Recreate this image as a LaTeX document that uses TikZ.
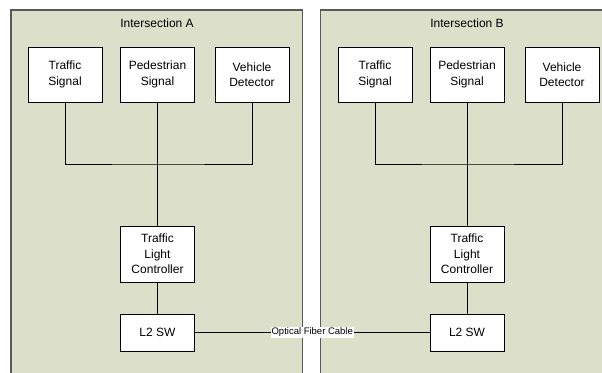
\documentclass[tikz,border=0pt]{standalone}
\usepackage{fontspec}
\setmainfont{Liberation Sans}
\begin{document}
\begin{tikzpicture}[x=1pt,y=-1pt,
  panel/.style={draw=black!65,line width=1.2pt,fill=panelgreen},
  device/.style={draw=black,line width=0.8pt,fill=white,align=center,
    font=\fontsize{12}{15.3}\selectfont,inner sep=0pt,minimum width=74pt},
  tall/.style={device,minimum height=55pt},
  short/.style={device,minimum height=37pt},
  wire/.style={draw=black,line width=0.9pt},
  fiber/.style={draw=black,line width=1.6pt},
  heading/.style={font=\fontsize{12}{14}\selectfont},
  cablelabel/.style={fill=white,inner sep=0.6pt,font=\fontsize{9.5}{11}\selectfont}
]
\definecolor{panelgreen}{HTML}{DCDFCA}
\useasboundingbox (0,0) rectangle (602,372);
\clip (0,0) rectangle (602,372);
\fill[white] (0,0) rectangle (602,372);

% Intersection panels
\draw[panel] (11,10) rectangle (302.5,385);
\draw[panel] (320.5,10) rectangle (612,385);
\node[heading] (titleA) at (157,23) {Intersection A};
\node[heading] (titleB) at (467,23) {Intersection B};

% Intersection A equipment
\node[tall] (tsA)  at (65,74.5)   {Traffic\\Signal};
\node[tall] (psA)  at (157.5,74.5) {Pedestrian\\Signal};
\node[tall] (vdA)  at (252,74.5)  {Vehicle\\Detector};
\node[device,minimum height=56pt] (tlcA) at (157.5,254) {Traffic\\Light\\Controller};
\node[short] (swA) at (157.5,332.5) {L2 SW};
\coordinate (busA) at (157.5,164);

% Intersection B equipment
\node[tall] (tsB)  at (375,74.5)  {Traffic\\Signal};
\node[tall] (psB)  at (467,74.5)  {Pedestrian\\Signal};
\node[tall] (vdB)  at (562,74.5)  {Vehicle\\Detector};
\node[device,minimum height=56pt] (tlcB) at (467,254) {Traffic\\Light\\Controller};
\node[short] (swB) at (467,332.5) {L2 SW};
\coordinate (busB) at (467,164);

% Local wiring
\draw[wire] (tsA) |- (busA) -| (vdA);
\draw[wire] (psA) -- (tlcA);
\draw[wire] (tlcA) -- (swA);
\draw[wire] (tsB) |- (busB) -| (vdB);
\draw[wire] (psB) -- (tlcB);
\draw[wire] (tlcB) -- (swB);

% Link between the two switches
\draw[fiber] (swA) -- node[cablelabel] (cable) {Optical Fiber Cable} (swB);
\end{tikzpicture}
\end{document}
